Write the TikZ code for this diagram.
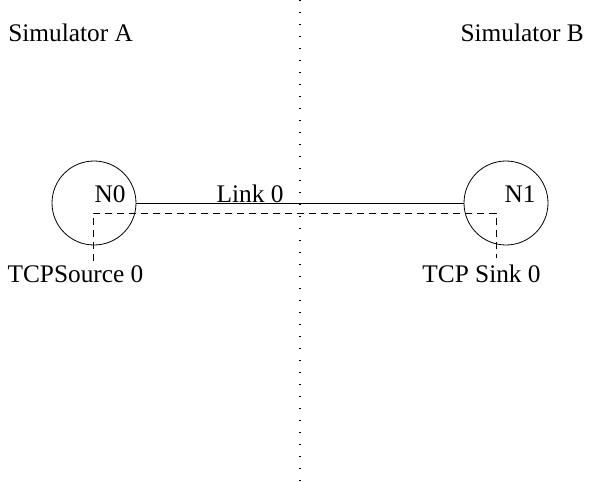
\documentclass[tikz,border=0pt]{standalone}
\usepackage{fontspec}
\setmainfont{Liberation Serif}
\usepackage{tikz}

\begin{document}
\begin{tikzpicture}[x=0.75pt,y=-0.75pt,
    host node/.style={circle,draw,line width=0.6pt,minimum size=63pt,inner sep=0pt},
    txt/.style={inner sep=0pt,font=\fontsize{19}{22}\selectfont},
    agent/.style={dashed,line width=0.6pt,dash pattern=on 5.5pt off 3.5pt}]
        \useasboundingbox (0,0) rectangle (590,482);
        % the two simulators, split by the dotted line
        \coordinate (top) at (300,0);
        \coordinate (bot) at (300,482);
        \draw[line width=0.8pt,dash pattern=on 0.75pt off 8.25pt] (top) -- (bot);
        \node[txt,anchor=west] (simA) at (8,33) {Simulator A};
        \node[txt,anchor=east] (simB) at (584,33) {Simulator B};
        % nodes and link
        \node[host node] (n0) at (94,203) {};
        \node[host node] (n1) at (506,203) {};
        \node[txt] (n0lbl) at (110,194) {N0};
        \node[txt] (n1lbl) at (520,194) {N1};
        \draw[line width=0.6pt] (n0) -- (n1);
        \node[txt] (link) at (250,194) {Link 0};
        % agents
        \node[txt] (src) at (75.5,274) {TCPSource 0};
        \node[txt] (sink) at (481.5,274) {TCP Sink 0};
        \coordinate (srcend) at (93,261);
        \coordinate (sinkend) at (496,258);
        \coordinate (tap) at (496,213);
        \draw[agent] (srcend) |- (tap) -- (sinkend);
      \end{tikzpicture}
\end{document}
